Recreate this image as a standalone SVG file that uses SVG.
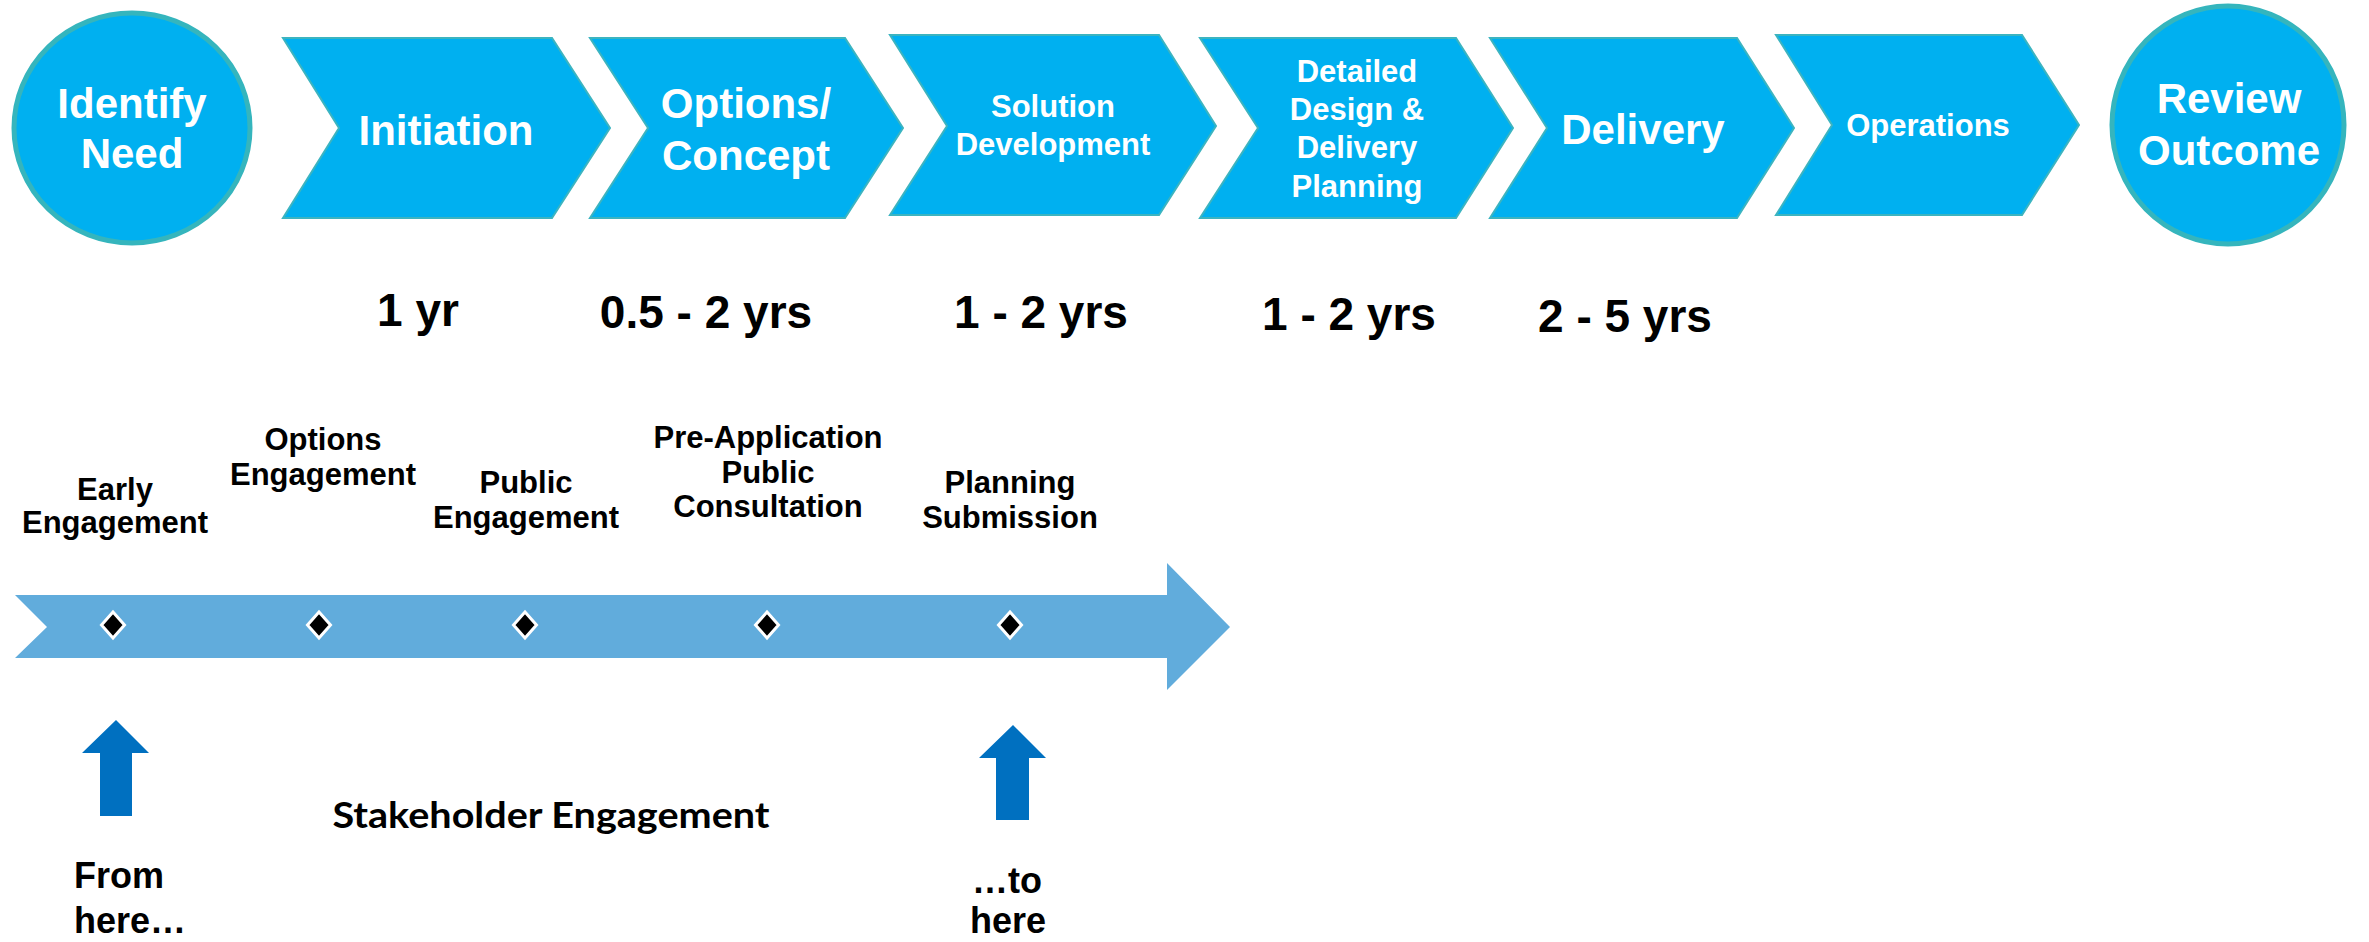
<svg xmlns="http://www.w3.org/2000/svg" width="2369" height="942" viewBox="0 0 2369 942">
<style>
.stage{fill:#00b0f0;stroke:#3cb4c0;stroke-width:2}
.ring{fill:#00b0f0;stroke:#35b5bd;stroke-width:5}
.wt{font-family:"Liberation Sans",Arial,sans-serif;font-weight:bold;fill:#ffffff;text-anchor:middle}
.bt{font-family:"Liberation Sans",Arial,sans-serif;font-weight:bold;fill:#000000;text-anchor:middle}
.big{font-size:42px}
.mid{font-size:31px}
.dur{font-size:46px}
.ms{font-size:31px}
.note{font-size:36px}
.up{fill:#0070c0}
.band{fill:#61acdc}
</style>
<defs>
<path id="dia" d="M0,-13 L11.5,0 L0,13 L-11.5,0 Z" fill="#000000" stroke="#ffffff" stroke-width="3"/>
</defs>
<rect width="2369" height="942" fill="#ffffff"/>

<g id="identify-need">
<ellipse class="ring" cx="132" cy="128" rx="118" ry="115"/>
<text class="wt big" x="132" y="118">Identify</text>
<text class="wt big" x="132" y="168">Need</text>
</g>
<g id="initiation">
<polygon class="stage" points="283,38 552,38 610,128 552,218 283,218 339,128"/>
<text class="wt big" x="446" y="145">Initiation</text>
</g>
<g id="options-concept">
<polygon class="stage" points="590,38 845,38 903,128 845,218 590,218 648,128"/>
<text class="wt big" x="746" y="118">Options/</text>
<text class="wt big" x="746" y="170">Concept</text>
</g>
<g id="solution-development">
<polygon class="stage" points="890,35 1159,35 1216,126 1159,215 890,215 947,126"/>
<text class="wt mid" x="1053" y="117">Solution</text>
<text class="wt mid" x="1053" y="155">Development</text>
</g>
<g id="detailed-design">
<polygon class="stage" points="1200,38 1456,38 1513,128 1456,218 1200,218 1258,128"/>
<text class="wt mid" x="1357" y="82">Detailed</text>
<text class="wt mid" x="1357" y="120">Design &amp;</text>
<text class="wt mid" x="1357" y="158">Delivery</text>
<text class="wt mid" x="1357" y="197">Planning</text>
</g>
<g id="delivery">
<polygon class="stage" points="1490,38 1737,38 1794,128 1737,218 1490,218 1547,128"/>
<text class="wt big" x="1643" y="144">Delivery</text>
</g>
<g id="operations">
<polygon class="stage" points="1776,35 2022,35 2079,125 2022,215 1776,215 1832,125"/>
<text class="wt mid" x="1928" y="136">Operations</text>
</g>
<g id="review-outcome">
<ellipse class="ring" cx="2228" cy="125" rx="116" ry="119"/>
<text class="wt big" x="2229" y="113">Review</text>
<text class="wt big" x="2229" y="165">Outcome</text>
</g>

<g id="durations">
<text class="bt dur" x="418" y="326">1 yr</text>
<text class="bt dur" x="706" y="328">0.5 - 2 yrs</text>
<text class="bt dur" x="1041" y="328">1 - 2 yrs</text>
<text class="bt dur" x="1349" y="330">1 - 2 yrs</text>
<text class="bt dur" x="1625" y="332">2 - 5 yrs</text>
</g>

<g id="connectors">
<polygon class="band" points="15,595 1167,595 1167,563 1230,627 1167,690 1167,658 15,658 47,627"/>
<polygon class="up" points="116,720 149,753 132,753 132,816 100,816 100,753 82,753"/>
<polygon class="up" points="1013,725 1046,758 1029,758 1029,820 996,820 996,758 979,758"/>
</g>

<g id="early-engagement">
<use href="#dia" x="113" y="625"/>
<text class="bt ms" x="115" y="500">Early</text>
<text class="bt ms" x="115" y="533">Engagement</text>
</g>
<g id="options-engagement">
<use href="#dia" x="319" y="625"/>
<text class="bt ms" x="323" y="450">Options</text>
<text class="bt ms" x="323" y="485">Engagement</text>
</g>
<g id="public-engagement">
<use href="#dia" x="525" y="625"/>
<text class="bt ms" x="526" y="493">Public</text>
<text class="bt ms" x="526" y="528">Engagement</text>
</g>
<g id="pre-application">
<use href="#dia" x="767" y="625"/>
<text class="bt ms" x="768" y="448">Pre-Application</text>
<text class="bt ms" x="768" y="483">Public</text>
<text class="bt ms" x="768" y="517">Consultation</text>
</g>
<g id="planning-submission">
<use href="#dia" x="1010" y="625"/>
<text class="bt ms" x="1010" y="493">Planning</text>
<text class="bt ms" x="1010" y="528">Submission</text>
</g>

<g id="stakeholder-label">
<text x="551" y="828" font-family="Lato, 'Open Sans', sans-serif" font-weight="bold" font-size="36" text-anchor="middle" textLength="437" lengthAdjust="spacingAndGlyphs" fill="#000000">Stakeholder Engagement</text>
</g>
<g id="from-here">
<text class="bt note" x="74" y="888" style="text-anchor:start">From</text>
<text class="bt note" x="74" y="933" style="text-anchor:start">here…</text>
</g>
<g id="to-here">
<text class="bt note" x="1007" y="893">…to</text>
<text class="bt note" x="1008" y="933">here</text>
</g>
</svg>
